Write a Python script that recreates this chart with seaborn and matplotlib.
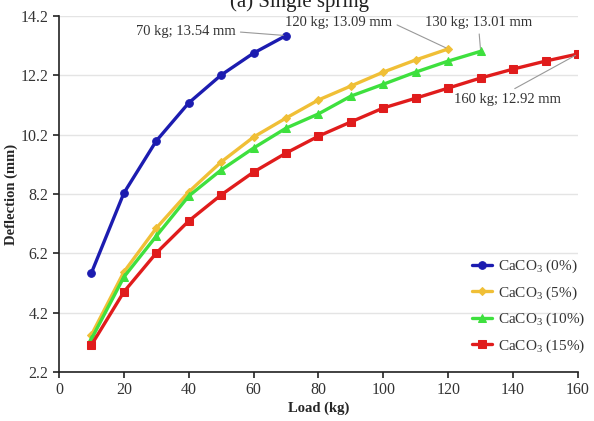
import matplotlib
matplotlib.use("Agg")
import matplotlib.pyplot as plt
import seaborn as sns
import pandas as pd

loads_0 = [10, 20, 30, 40, 50, 60, 70]
defl_0 = [5.54, 8.23, 9.99, 11.27, 12.21, 12.95, 13.54]

loads_5 = [10, 20, 30, 40, 50, 60, 70, 80, 90, 100, 110, 120]
defl_5 = [3.45, 5.57, 7.05, 8.27, 9.28, 10.12, 10.76, 11.37, 11.84, 12.31, 12.72, 13.09]

loads_10 = [10, 20, 30, 40, 50, 60, 70, 80, 90, 100, 110, 120, 130]
defl_10 = [3.31, 5.40, 6.78, 8.13, 9.01, 9.75, 10.42, 10.90, 11.50, 11.90, 12.31, 12.68, 13.01]

loads_15 = [10, 20, 30, 40, 50, 60, 70, 80, 90, 100, 110, 120, 130, 140, 150, 160]
defl_15 = [3.11, 4.90, 6.21, 7.29, 8.17, 8.94, 9.58, 10.15, 10.63, 11.10, 11.43, 11.77, 12.11, 12.41, 12.68, 12.92]

series_names = ["CaCO$_3$ (0%)", "CaCO$_3$ (5%)", "CaCO$_3$ (10%)", "CaCO$_3$ (15%)"]
colors = ["#1c1cb0", "#f0bf36", "#3ee03e", "#e01c1c"]
markers = ["o", "D", "^", "s"]
msizes = [5.5, 4, 6, 5.5]

x_ticks = [0, 20, 40, 60, 80, 100, 120, 140, 160]
y_ticks = [2.2, 4.2, 6.2, 8.2, 10.2, 12.2, 14.2]

annotations = [
    ("70 kg; 13.54 mm", 70, 13.54, 54.5, 13.67, "right", (1.0, 0.5)),
    ("120 kg; 13.09 mm", 120, 13.09, 69.8, 13.97, "left", (1.0, 0.5)),
    ("130 kg; 13.01 mm", 130, 13.01, 112.9, 13.97, "left", (0.5, 0.0)),
    ("160 kg; 12.92 mm", 160, 12.92, 121.8, 11.40, "left", (0.5, 1.0)),
]

frames = []
for name, xs, ys in zip(series_names, [loads_0, loads_5, loads_10, loads_15],
                        [defl_0, defl_5, defl_10, defl_15]):
    frames.append(pd.DataFrame({"Load": xs, "Deflection": ys, "Series": name}))
df = pd.concat(frames, ignore_index=True)

sns.set_style("white")
plt.rcParams["font.family"] = ["Liberation Serif", "DejaVu Serif"]
plt.rcParams["mathtext.fontset"] = "custom"
plt.rcParams["mathtext.rm"] = "Liberation Serif"
plt.rcParams["mathtext.it"] = "Liberation Serif:italic"
plt.rcParams["mathtext.bf"] = "Liberation Serif:bold"

fig = plt.figure(figsize=(5.94, 4.21), dpi=100)
ax = fig.add_axes([0.0993, 0.1164, 0.8737, 0.8456])

for name, c, m, ms in zip(series_names, colors, markers, msizes):
    sub = df[df["Series"] == name]
    sns.lineplot(data=sub, x="Load", y="Deflection", ax=ax, color=c, marker=m,
                 markersize=ms, markeredgecolor=c, linewidth=2.4, label=name,
                 estimator=None, sort=False, zorder=3)

ax.set_xlim(0, 160)
ax.set_ylim(2.2, 14.2)
ax.set_xticks(x_ticks)
ax.set_yticks(y_ticks)
ax.set_yticklabels([f"{v:.1f}" for v in y_ticks])
ax.yaxis.grid(True, color="#e4e4e4", linewidth=1)
ax.xaxis.grid(False)
for s in ["top", "right"]:
    ax.spines[s].set_visible(False)
for s in ["left", "bottom"]:
    ax.spines[s].set_color("#222222")
    ax.spines[s].set_linewidth(1.2)
ax.tick_params(axis="both", direction="out", length=4, width=1.2, color="#222222",
               labelsize=11.5, labelcolor="#333333", left=True, bottom=True)
ax.set_xlabel("Load (kg)", fontsize=10.5, fontweight="bold", labelpad=2)
ax.set_ylabel("Deflection (mm)", fontsize=10.5, fontweight="bold", labelpad=2)

for txt, px, py, tx, ty, ha, rp in annotations:
    ax.annotate(txt, xy=(px, py), xytext=(tx, ty), ha=ha, va="center",
                fontsize=10.5, color="#333333",
                arrowprops=dict(arrowstyle="-", color="#999999", lw=0.8,
                                shrinkA=1, shrinkB=2, relpos=rp), zorder=4)

leg = ax.legend(loc="lower right", bbox_to_anchor=(1.04, 0.01), frameon=False,
                fontsize=11, handlelength=1.3, handletextpad=0.4,
                labelspacing=0.6)
for t in leg.get_texts():
    t.set_color("#333333")

fig.text(0.505, 0.995, "(a) Single spring", ha="center", va="center", fontsize=15,
         color="#222222")

fig.savefig("out.png", dpi=100)
